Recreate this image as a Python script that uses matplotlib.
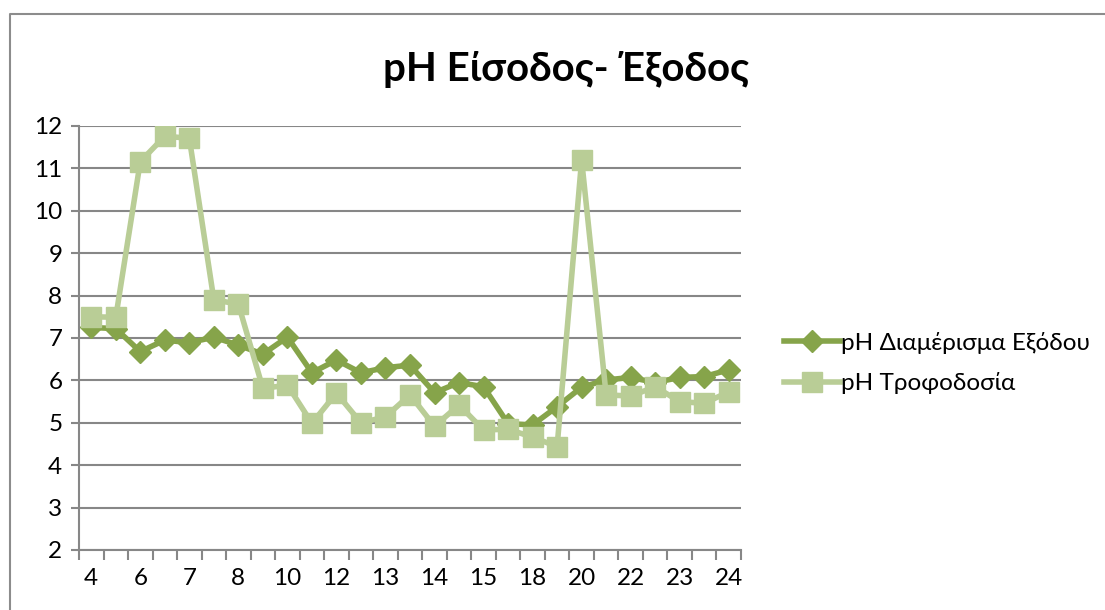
import matplotlib.pyplot as plt
from matplotlib.lines import Line2D

plt.rcParams['font.family'] = ['Lato', 'DejaVu Sans']

tick_labels = ['4', '', '6', '', '7', '', '8', '', '10', '', '12', '', '13', '',
               '14', '', '15', '', '18', '', '20', '', '22', '', '23', '', '24']

ph_exit = [7.25, 7.22, 6.68, 6.95, 6.89, 7.02, 6.83, 6.62, 7.02, 6.18, 6.48, 6.18,
           6.3, 6.36, 5.71, 5.95, 5.85, 4.98, 4.95, 5.38, 5.84, 6.01, 6.07, 5.95,
           6.07, 6.09, 6.25]
ph_feed = [7.5, 7.49, 11.16, 11.76, 11.71, 7.9, 7.8, 5.81, 5.89, 4.99, 5.7, 5.0,
           5.14, 5.66, 4.92, 5.42, 4.83, 4.85, 4.66, 4.44, 11.2, 5.66, 5.63, 5.85,
           5.5, 5.46, 5.73]

dark = '#86A44A'
light = '#B9CD96'
grid_c = '#878787'

fig = plt.figure(figsize=(11.05, 6.1), dpi=100)
ax = fig.add_axes([79 / 1105, 1 - 550 / 610, (741 - 79) / 1105, (550 - 126) / 610])

x = list(range(len(tick_labels)))
ax.plot(x, ph_exit, color=dark, lw=4, marker='D', ms=11, mec=dark, mfc=dark,
        label='pH Διαμέρισμα Εξόδου', zorder=3)
ax.plot(x, ph_feed, color=light, lw=4, marker='s', ms=14, mec=light, mfc=light,
        label='pH Τροφοδοσία', zorder=4)

ax.set_xlim(-0.5, len(x) - 0.5)
ax.set_ylim(2, 12)
ax.set_yticks(range(2, 13))
ax.set_xticks(x)
ax.set_xticklabels(tick_labels)
ax.set_xticks([i - 0.5 for i in range(len(x) + 1)], minor=True)
ax.tick_params(axis='x', which='major', length=0, pad=13, labelsize=17.5)
ax.tick_params(axis='x', which='minor', length=7, width=1.5, color=grid_c)
ax.tick_params(axis='y', length=6, width=1.5, color=grid_c, labelsize=17.5, pad=6)

ax.grid(axis='y', color=grid_c, lw=1.5)
ax.set_axisbelow(True)
for s in ['top', 'right']:
    ax.spines[s].set_visible(False)
for s in ['left', 'bottom']:
    ax.spines[s].set_color(grid_c)
    ax.spines[s].set_linewidth(1.5)

fig.text(566 / 1105, 1 - 70 / 610, 'pH Είσοδος- Έξοδος', ha='center', va='center',
         fontsize=29, fontweight='bold')

fig.legend(loc='center left', bbox_to_anchor=(772 / 1105, 1 - 363 / 610),
           frameon=False, fontsize=17.5, handlelength=2.3, handletextpad=0.05,
           labelspacing=0.75, borderpad=0)

# outer chart border
fig.add_artist(Line2D([10 / 1105, 10 / 1105, 1], [0, 1 - 14 / 610, 1 - 14 / 610],
                      transform=fig.transFigure, color='#8c8c8c', lw=1.5))

fig.savefig('out.png', dpi=100)
